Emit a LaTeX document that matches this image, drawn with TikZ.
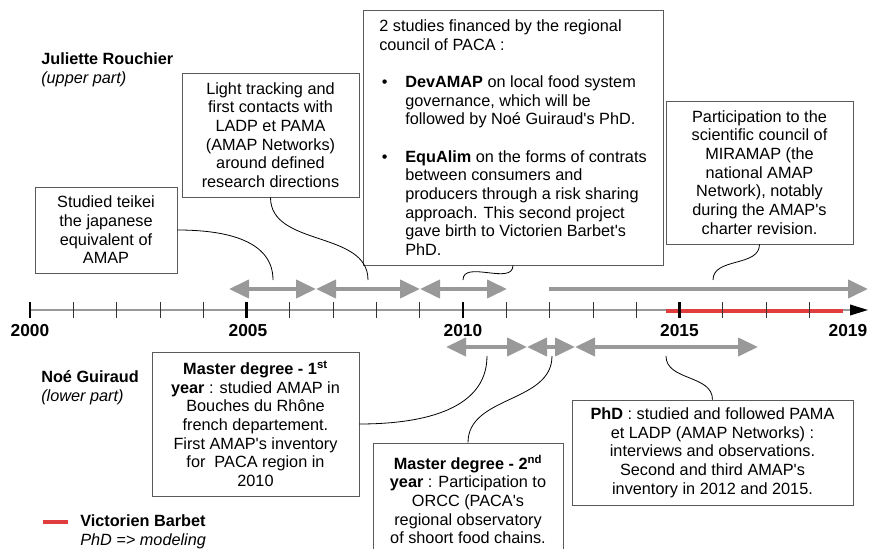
\documentclass[tikz,border=0pt]{standalone}
\usepackage{fontspec}
\setmainfont{Liberation Sans}
\usetikzlibrary{arrows.meta,positioning}
\definecolor{spangray}{RGB}{153,153,153}
\definecolor{phdred}{RGB}{224,62,62}
\definecolor{boxline}{RGB}{90,90,90}
\newcommand{\q}{\textquotesingle}
\newcommand{\bul}{\makebox[19.5pt][l]{\hspace{2pt}\textbullet}}
\newcommand{\ind}{\hspace*{19.5pt}}

\begin{document}
\begin{tikzpicture}[x=0.75pt,y=-0.75pt]
\tikzstyle{every node}=[font=\fontsize{12.2pt}{14pt}\selectfont]
\tikzstyle{box}=[draw=boxline, fill=white, line width=0.6pt, align=center, inner sep=0pt]
\tikzstyle{tag}=[anchor=west, inner sep=0pt, align=left]
\tikzstyle{year}=[font=\fontsize{13pt}{14pt}\selectfont\bfseries]
\tikzstyle{span}=[draw=spangray, line width=3pt, >={Triangle[length=15pt,width=13.5pt]}]
\tikzstyle{link}=[draw=black, line width=0.6pt]

\useasboundingbox (0,0) rectangle (869,549);

% time axis
\draw[spangray, line width=1.2pt, -{Triangle[length=13.5pt,width=8pt,color=black]}] (30,310) -- (868,310);
\draw[phdred, line width=3pt] (666,311) -- (843,311);
\foreach \i in {0,...,18}
  \draw[black!80, line width=0.5pt] ({30+43.3*\i},302) -- ({30+43.3*\i},318);
\foreach \i in {0,5,10,15}
  \draw[black, line width=2pt] ({30+43.3*\i},302) -- ({30+43.3*\i},318);

\node[year] (y2000) at (30,331) {2000};
\node[year] (y2005) at (248,331) {2005};
\node[year] (y2010) at (463,331) {2010};
\node[year] (y2015) at (679.5,331) {2015};
\node[year] (y2019) at (848,331) {2019};

% periods
\draw[span,<->] (229,289) -- (316,289);
\draw[span,<->] (316,289) -- (420,289);
\draw[span,<->] (420,289) -- (507,289);
\draw[span,->] (549,289) -- (868,289);
\draw[span,<->] (446,347) -- (527,347);
\draw[span,<->] (527,347) -- (575,347);
\draw[span,<->] (575,347) -- (758,347);

\coordinate (s1) at (273,280);
\coordinate (s2) at (368,280);
\coordinate (s3) at (463,280);
\coordinate (s4) at (713,280);
\coordinate (t1) at (487,356);
\coordinate (t2) at (552,356);
\coordinate (t3) at (666,356);

% people
\node[tag] (rouchier) at (41,70) {\textbf{Juliette Rouchier}\\\textit{(upper part)}};
\node[tag] (guiraud) at (41,388) {\textbf{Noé Guiraud}\\\textit{(lower part)}};
\draw[phdred, line width=3pt] (43,522) -- (68,522);
\node[tag] (barbet) at (80,532) {\textbf{Victorien Barbet}\\\textit{PhD => modeling}};

% upper part
\node[box, minimum width=106.5pt, minimum height=64.5pt] (teikei) at (106,230)
  {Studied teikei\\the japanese\\equivalent of\\AMAP};
\node[box, minimum width=132.75pt, minimum height=93pt] (tracking) at (270.5,135)
  {Light tracking and\\first contacts with\\LADP et PAMA\\(AMAP Networks)\\around defined\\research directions};
\node[box, align=left, minimum width=225pt, minimum height=191.25pt] (paca) at (513,137.5)
  {2 studies financed by the regional\\council of PACA :\\[14pt]
   \bul\textbf{DevAMAP} on local food system\\
   \ind governance, which will be\\
   \ind followed by Noé Guiraud\q s PhD.\\[14pt]
   \bul\textbf{EquAlim} on the forms of contrats\\
   \ind between consumers and\\
   \ind producers through a risk sharing\\
   \ind approach. This second project\\
   \ind gave birth to Victorien Barbet\q s\\
   \ind PhD.};
\node[box, minimum width=140.25pt, minimum height=107.25pt] (miramap) at (759.5,172.5)
  {Participation to the\\scientific council of\\MIRAMAP (the\\national AMAP\\Network), notably\\during the AMAP\q s\\charter revision.};

% lower part
\node[box, minimum width=155.25pt, minimum height=108pt] (master1) at (255.5,424)
  {\textbf{Master degree - 1\textsuperscript{st}}\\\textbf{year} : studied AMAP in\\Bouches du Rhône\\french departement.\\First AMAP\q s inventory\\for\ \ PACA region in\\2010};
\node[box, minimum width=142.5pt, minimum height=84.75pt] (master2) at (468,499.5)
  {\textbf{Master degree - 2\textsuperscript{nd}}\\\textbf{year} : Participation to\\ORCC (PACA\q s\\regional observatory\\of shoort food chains.};
\node[box, minimum width=210.75pt, minimum height=78.75pt] (phd) at (712.5,452.5)
  {\textbf{PhD} : studied and followed PAMA\\et LADP (AMAP Networks) :\\interviews and observations.\\Second and third AMAP\q s\\inventory in 2012 and 2015.};

% links
\draw[link] (teikei.east) to[out=0,in=90] (s1);
\draw[link] (tracking.south) to[out=-90,in=90] (s2);
\draw[link] (paca.south) to[out=-90,in=90] (s3);
\draw[link] (miramap.south) to[out=-90,in=90] (s4);
\draw[link] (master1.east) to[out=0,in=-90] (t1);
\draw[link] (master2.north) to[out=90,in=-90] (t2);
\draw[link] (phd.north) to[out=90,in=-90] (t3);
\end{tikzpicture}
\end{document}
